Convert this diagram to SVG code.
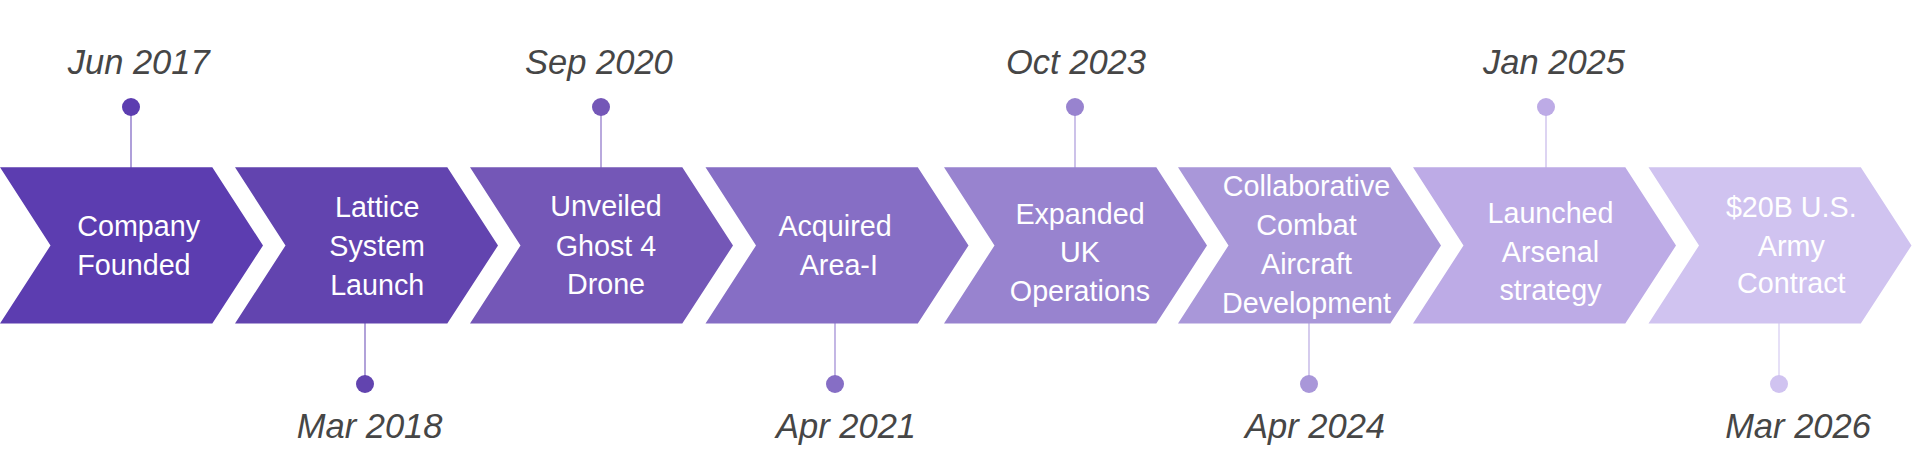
<svg xmlns="http://www.w3.org/2000/svg" width="1914" height="459" viewBox="0 0 1914 459">
<style>
.date{font-family:"Liberation Sans",Arial,sans-serif;font-style:italic;font-size:34.5px;fill:#464646;text-anchor:middle}
.lbl{font-family:"Liberation Sans",Arial,sans-serif;font-size:28.7px;fill:#ffffff;text-anchor:middle}
.conn{stroke-width:1.2;fill:none}
</style>
<defs>
<path id="chev" d="M0,167.3 L212.3,167.3 L263,245.5 L212.3,323.5 L0,323.5 L50.5,245.5 Z"/>
</defs>
<rect width="1914" height="459" fill="#ffffff"/>
<g id="connectors">
<line class="conn" x1="131" y1="107" x2="131" y2="168" stroke="#7a60c2"/>
<line class="conn" x1="365" y1="384" x2="365" y2="323" stroke="#7e64c0"/>
<line class="conn" x1="601" y1="107" x2="601" y2="168" stroke="#8a70c6"/>
<line class="conn" x1="835" y1="384" x2="835" y2="323" stroke="#9c86d2"/>
<line class="conn" x1="1075" y1="107" x2="1075" y2="168" stroke="#ab99da"/>
<line class="conn" x1="1309" y1="384" x2="1309" y2="323" stroke="#b9a9e2"/>
<line class="conn" x1="1546" y1="107" x2="1546" y2="168" stroke="#c6b8ea"/>
<line class="conn" x1="1779" y1="384" x2="1779" y2="323" stroke="#d6ccf2"/>
</g>
<g id="node1">
<use href="#chev" x="0" fill="#5c3db0"/>
<circle cx="131" cy="107" r="9" fill="#5c3db0"/>
<text class="date" x="138.7" y="74">Jun 2017</text>
<text class="lbl" style="text-anchor:start" x="77.3" y="236">Company</text>
<text class="lbl" style="text-anchor:start" x="77.3" y="275">Founded</text>
</g>
<g id="node2">
<use href="#chev" x="235" fill="#6244af"/>
<circle cx="365" cy="384" r="9" fill="#6244af"/>
<text class="date" x="369.6" y="438">Mar 2018</text>
<text class="lbl" x="377.2" y="217.3">Lattice</text>
<text class="lbl" x="377.2" y="256.3">System</text>
<text class="lbl" x="377.2" y="294.5">Launch</text>
</g>
<g id="node3">
<use href="#chev" x="470" fill="#7457b7"/>
<circle cx="601" cy="107" r="9" fill="#7457b7"/>
<text class="date" x="598.9" y="74">Sep 2020</text>
<text class="lbl" x="606" y="216.3">Unveiled</text>
<text class="lbl" x="606" y="255.5">Ghost 4</text>
<text class="lbl" x="606" y="294">Drone</text>
</g>
<g id="node4">
<use href="#chev" x="705.5" fill="#866ec5"/>
<circle cx="835" cy="384" r="9" fill="#866ec5"/>
<text class="date" x="846" y="438">Apr 2021</text>
<text class="lbl" x="835" y="235.7">Acquired</text>
<text class="lbl" x="838.8" y="275">Area-I</text>
</g>
<g id="node5">
<use href="#chev" x="944" fill="#9883cf"/>
<circle cx="1075" cy="107" r="9" fill="#9883cf"/>
<text class="date" x="1076" y="74">Oct 2023</text>
<text class="lbl" x="1080" y="224">Expanded</text>
<text class="lbl" x="1080" y="262.3">UK</text>
<text class="lbl" x="1080" y="300.7">Operations</text>
</g>
<g id="node6">
<use href="#chev" x="1178" fill="#a997d9"/>
<circle cx="1309" cy="384" r="9" fill="#a997d9"/>
<text class="date" x="1315" y="438">Apr 2024</text>
<text class="lbl" x="1306.5" y="196">Collaborative</text>
<text class="lbl" x="1306.5" y="235">Combat</text>
<text class="lbl" x="1306.5" y="274.3">Aircraft</text>
<text class="lbl" x="1306.5" y="313.3">Development</text>
</g>
<g id="node7">
<use href="#chev" x="1413" fill="#bdabe6"/>
<circle cx="1546" cy="107" r="9" fill="#bdabe6"/>
<text class="date" x="1554" y="74">Jan 2025</text>
<text class="lbl" x="1550.5" y="222.7">Launched</text>
<text class="lbl" x="1550.5" y="261.7">Arsenal</text>
<text class="lbl" x="1550.5" y="300">strategy</text>
</g>
<g id="node8">
<use href="#chev" x="1648.5" fill="#d0c3f0"/>
<circle cx="1779" cy="384" r="9" fill="#d0c3f0"/>
<text class="date" x="1798" y="438">Mar 2026</text>
<text class="lbl" x="1791.3" y="216.7">$20B U.S.</text>
<text class="lbl" x="1791.3" y="256">Army</text>
<text class="lbl" x="1791.3" y="293.3">Contract</text>
</g>
</svg>
